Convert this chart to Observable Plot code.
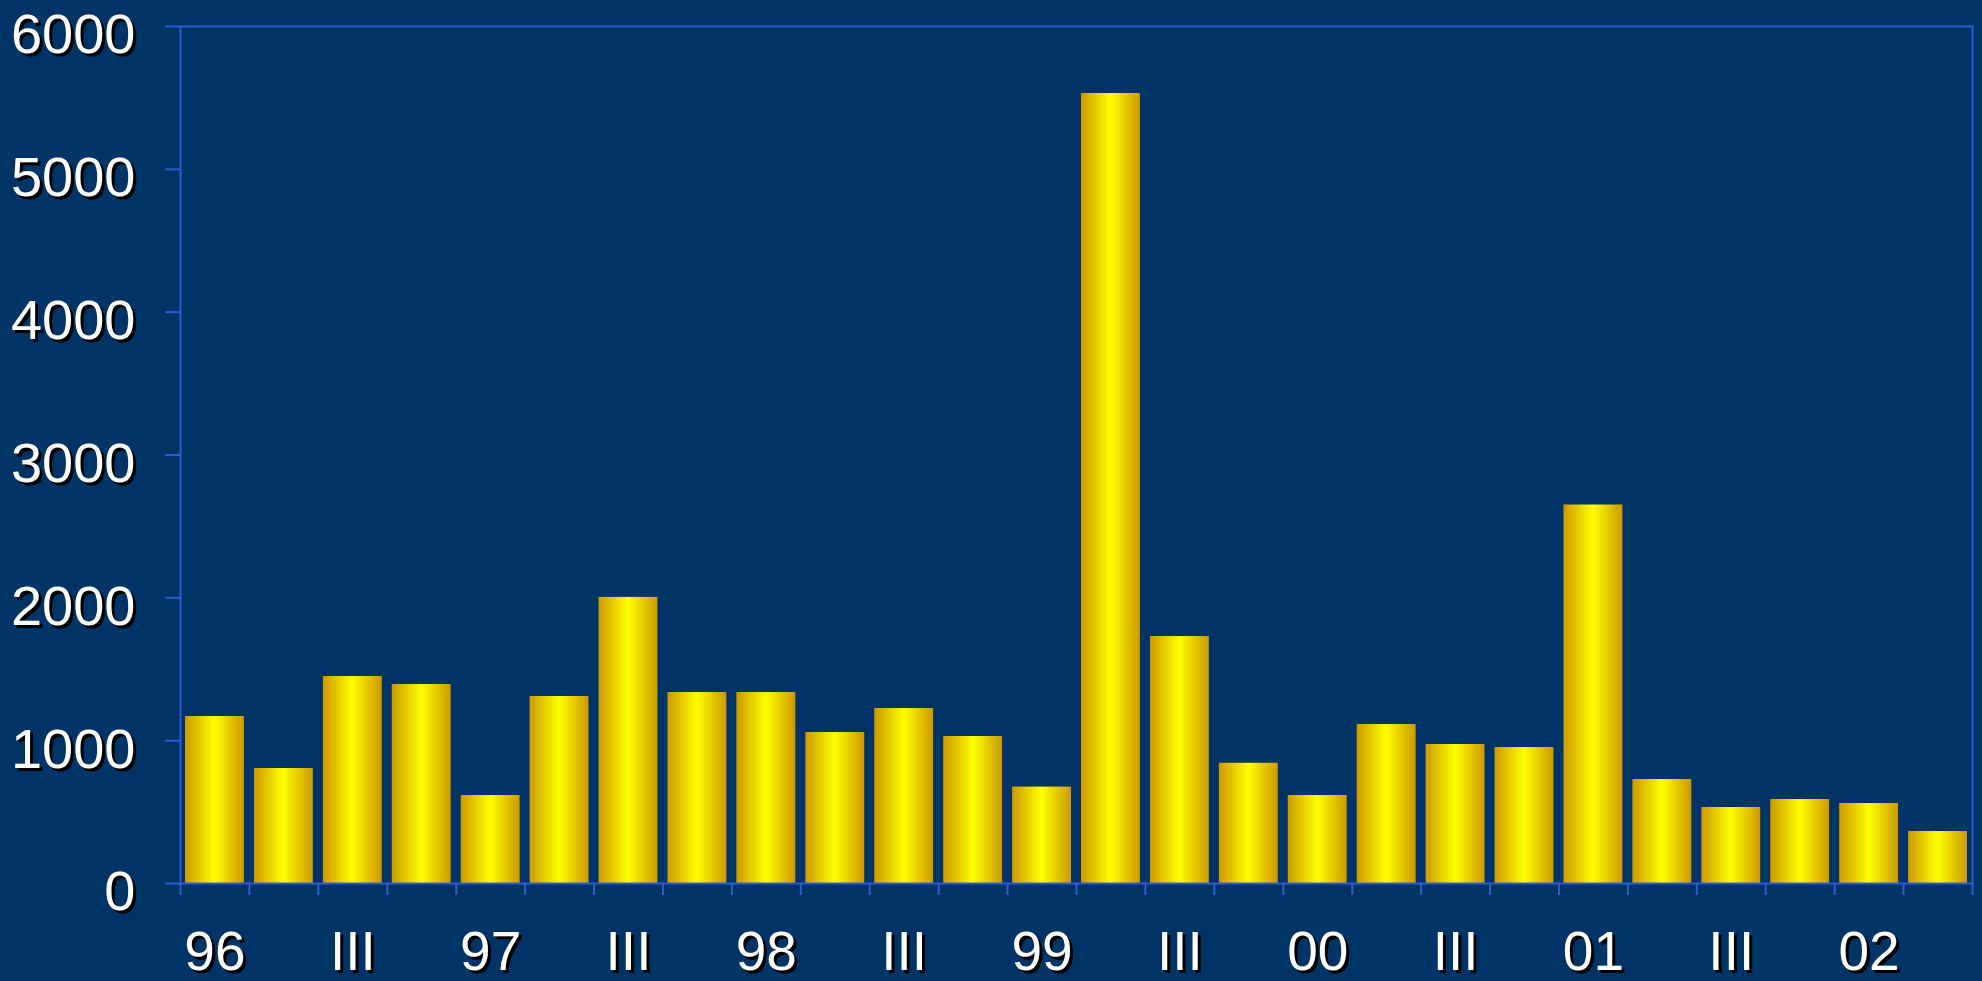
<!DOCTYPE html>
<html>
<head>
<meta charset="utf-8">
<script src="https://cdn.jsdelivr.net/npm/d3@7"></script>
<script src="https://cdn.jsdelivr.net/npm/@observablehq/plot@0.6"></script>
<style>
  html, body { margin: 0; padding: 0; background: #003366; overflow: hidden; }
  #chart svg text { text-shadow: 3px 3px 0 #000; }
</style>
</head>
<body>
<div id="chart"></div>
<script>
// Quarterly series, 1996 Q1 – 2002 Q2
const quarters = [
  "1996 I","1996 II","1996 III","1996 IV",
  "1997 I","1997 II","1997 III","1997 IV",
  "1998 I","1998 II","1998 III","1998 IV",
  "1999 I","1999 II","1999 III","1999 IV",
  "2000 I","2000 II","2000 III","2000 IV",
  "2001 I","2001 II","2001 III","2001 IV",
  "2002 I","2002 II"
];
const values = [
  1169, 805, 1449, 1393,
  616, 1309, 2003, 1337,
  1337, 1057, 1225, 1029,
  675, 5531, 1729, 842,
  616, 1113, 973, 952,
  2650, 728, 532, 588,
  560, 364
];
// labels shown under every other quarter, starting with the first
const tickLabels = ["96","III","97","III","98","III","99","III","00","III","01","III","02"];
const yTicks = [0, 1000, 2000, 3000, 4000, 5000, 6000];

const blue = "#2f5ad6";
const data = quarters.map((q, i) => ({i, q, v: values[i]}));
const boundaries = d3.range(0, quarters.length + 1);
const labelPos = tickLabels.map((_, k) => 2 * k + 0.5);

const font = "'Liberation Sans', Arial, sans-serif";

const svg = Plot.plot({
  width: 1982,
  height: 981,
  marginLeft: 180,
  marginRight: 10,
  marginTop: 26,
  marginBottom: 98,
  style: {background: "#003366", color: "white", fontFamily: font, fontSize: "56px", overflow: "visible"},
  x: {domain: [0, quarters.length], axis: null},
  y: {domain: [0, 6000], axis: null, label: null},
  marks: [
    Plot.rectY(data, {x1: d => d.i, x2: d => d.i + 1, y: "v", insetLeft: 5, insetRight: 5, fill: "url(#gold)"}),
    Plot.frame({stroke: blue, strokeWidth: 2}),
    Plot.axisY({ticks: yTicks, tickSize: 15, tickFormat: () => "", label: null,
      stroke: blue, strokeWidth: 2, strokeOpacity: 1}),
    Plot.axisY({ticks: yTicks, tickSize: 0, tickPadding: 45, label: null,
      fill: "white", fontSize: 56, dy: 9, tickFormat: d => String(d)}),
    Plot.axisX({ticks: boundaries, tickSize: 12, tickFormat: () => "", label: null,
      stroke: blue, strokeWidth: 2, strokeOpacity: 1}),
    Plot.axisX({ticks: labelPos, tickSize: 0, tickPadding: 47, label: null, fill: "white", fontSize: 55,
      tickFormat: d => tickLabels[Math.round((d - 0.5) / 2)]})
  ]
});

d3.select(svg).insert("defs", ":first-child").html(`
  <linearGradient id="gold" x1="0" y1="0" x2="1" y2="0">
    <stop offset="0" stop-color="#cc9900"/>
    <stop offset="0.5" stop-color="#ffff00"/>
    <stop offset="1" stop-color="#cc9900"/>
  </linearGradient>`);

document.getElementById("chart").appendChild(svg);
</script>
</body>
</html>
